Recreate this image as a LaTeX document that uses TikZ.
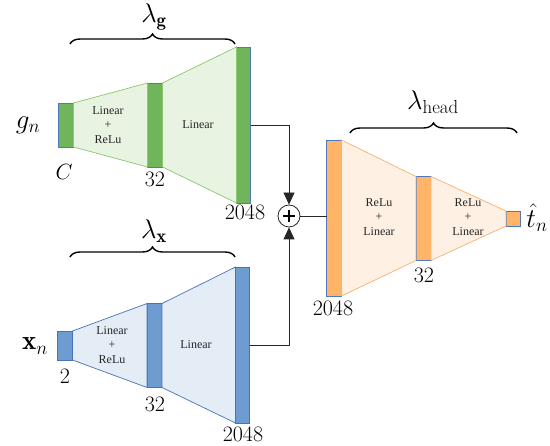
\RequirePackage{fix-cm}
\documentclass[tikz,border=0pt]{standalone}
\usepackage{fontspec}
\newfontfamily\tnr{Liberation Serif}
\usetikzlibrary{decorations.pathreplacing,arrows.meta,calc}
\definecolor{gbox}{RGB}{112,180,92}
\definecolor{gline}{RGB}{140,200,110}
\definecolor{gfill}{RGB}{232,243,226}
\definecolor{bbox}{RGB}{110,156,208}
\definecolor{bline}{RGB}{70,115,180}
\definecolor{bfill}{RGB}{228,236,246}
\definecolor{obox}{RGB}{255,180,104}
\definecolor{oline}{RGB}{246,178,110}
\definecolor{ofill}{RGB}{254,240,227}
\definecolor{edge}{RGB}{80,120,190}
\begin{document}
\begin{tikzpicture}[x=1pt,y=-1pt,
  layer/.style={draw=edge,line width=0.8pt,inner sep=0pt,outer sep=0pt,minimum width=#1},
  gbar/.style={layer=15pt,fill=gbox},
  bbar/.style={layer=15pt,fill=bbox,draw=bline},
  obar/.style={layer=15pt,fill=obox},
  small/.style={font=\tnr\fontsize{12}{14.5}\selectfont,align=center,text=black!85},
  dimlab/.style={font=\fontsize{22}{24}\selectfont},
  biglab/.style={font=\fontsize{27}{29}\selectfont},
  brace/.style={decorate,decoration={brace,amplitude=10pt},line width=1.4pt},
  conn/.style={line width=0.8pt,draw=black!85},
  tip/.style={-{Triangle[length=12pt,width=11pt]}}
]
\useasboundingbox (0,0) rectangle (550,446);
% green branch
\node[gbar,minimum width=15pt,minimum height=44pt] (g1) at (66,125) {};
\node[gbar,minimum height=84pt] (g2) at (155,125) {};
\node[gbar,minimum width=14pt,minimum height=156pt] (g3) at (243.5,125) {};
\filldraw[fill=gfill,draw=gline,line width=0.7pt] (g1.north east) -- (g2.north west) -- (g2.south west) -- (g1.south east) -- cycle;
\filldraw[fill=gfill,draw=gline,line width=0.7pt] (g2.north east) -- (g3.north west) -- (g3.south west) -- (g2.south east) -- cycle;
\node[small] (gt1) at (108,125) {Linear\\+\\ReLu};
\node[small] (gt2) at (198,125) {Linear};
\node[biglab] (gn) at (28,125) {$g_n$};
\node[dimlab] (gC) at (64,172) {$C$};
\node[dimlab] (g32) at (155,179) {$32$};
\node[dimlab] (g2048) at (245,212) {$2048$};
\coordinate (gbl) at (70,44);
\coordinate (gbr) at (235,44);
\draw[brace] (gbl) -- (gbr);
\node[biglab] (lg) at (154,17) {$\lambda_{\mathbf{g}}$};
% blue branch
\node[bbar,minimum width=15pt,minimum height=29pt] (b1) at (65,345.5) {};
\node[bbar,minimum height=84pt] (b2) at (154.5,345.5) {};
\node[bbar,minimum width=14pt,minimum height=156pt] (b3) at (242.5,345) {};
\filldraw[fill=bfill,draw=bline,line width=0.7pt] (b1.north east) -- (b2.north west) -- (b2.south west) -- (b1.south east) -- cycle;
\filldraw[fill=bfill,draw=bline,line width=0.7pt] (b2.north east) -- (b3.north west) -- (b3.south west) -- (b2.south east) -- cycle;
\node[small] (bt1) at (112,345) {Linear\\+\\ReLu};
\node[small] (bt2) at (196,345) {Linear};
\node[biglab] (xn) at (35,346) {$\mathbf{x}_n$};
\node[dimlab] (b2l) at (65,376) {$2$};
\node[dimlab] (b32) at (155,404) {$32$};
\node[dimlab] (b2048) at (243,434) {$2048$};
\coordinate (bbl) at (70,257);
\coordinate (bbr) at (235,257);
\draw[brace] (bbl) -- (bbr);
\node[biglab] (lx) at (154,231) {$\lambda_{\mathbf{x}}$};
% sum
\node[circle,draw=black!85,line width=0.8pt,minimum size=22pt,inner sep=0pt] (sum) at (289,216) {};
\draw[line width=1.6pt] ($(sum.center)+(-6,0)$) -- ($(sum.center)+(6,0)$);
\draw[line width=1.6pt] ($(sum.center)+(0,-6)$) -- ($(sum.center)+(0,6)$);
\draw[conn,tip] (g3.east) -| (sum.north);
\draw[conn,tip] (b3.east) -| (sum.south);
% orange branch
\node[obar,minimum height=156pt] (o1) at (334,218) {};
\node[obar,minimum height=84pt] (o2) at (423.5,218.5) {};
\node[obar,minimum width=14pt,minimum height=15pt] (o3) at (513,218.5) {};
\draw[conn] (sum.east) -- (o1.west |- sum.east);
\filldraw[fill=ofill,draw=oline,line width=0.7pt] (o1.north east) -- (o2.north west) -- (o2.south west) -- (o1.south east) -- cycle;
\filldraw[fill=ofill,draw=oline,line width=0.7pt] (o2.north east) -- (o3.north west) -- (o3.south west) -- (o2.south east) -- cycle;
\node[small] (ot1) at (379,217) {ReLu\\+\\Linear};
\node[small] (ot2) at (468,217) {ReLu\\+\\Linear};
\node[dimlab] (o2048) at (333,308) {$2048$};
\node[dimlab] (o32) at (424,275) {$32$};
\node[biglab] (tn) at (537,218) {$\hat{t}_n$};
\coordinate (obl) at (350,133);
\coordinate (obr) at (517,133);
\draw[brace] (obl) -- (obr);
\node[biglab] (lh) at (433,102) {$\lambda_{\mathrm{head}}$};
\end{tikzpicture}
\end{document}
